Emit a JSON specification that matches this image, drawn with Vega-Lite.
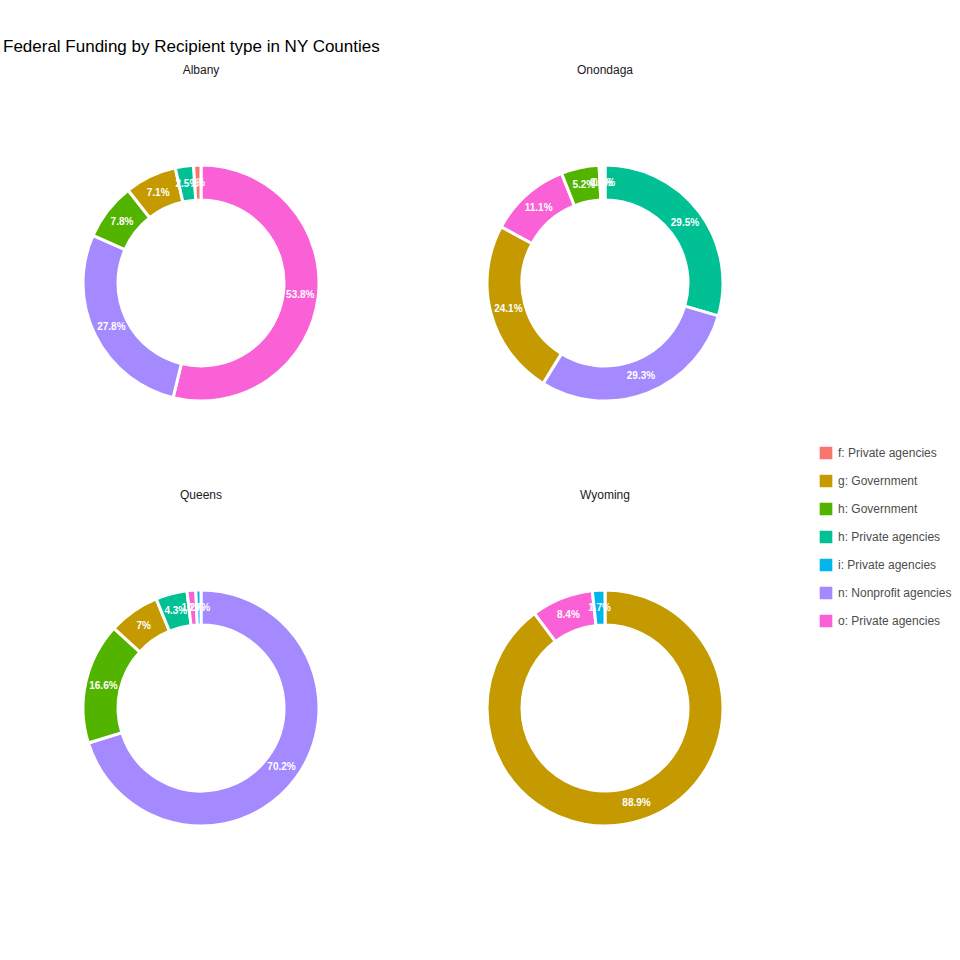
{
  "$schema": "https://vega.github.io/schema/vega-lite/v6.json",
  "padding": {"top": 38, "left": 3, "right": 5, "bottom": 5},
  "title": {"text": "Federal Funding by Recipient type in NY Counties", "anchor": "start", "fontSize": 17, "fontWeight": "normal", "font": "Liberation Sans", "offset": 8},
  "config": {"view": {"stroke": null}, "font": "Liberation Sans"},
  "data": {"values": [
    {"county": "Albany", "type": "o: Private agencies", "ord": 1, "pct": 53.8},
    {"county": "Albany", "type": "n: Nonprofit agencies", "ord": 2, "pct": 27.8},
    {"county": "Albany", "type": "h: Government", "ord": 3, "pct": 7.8},
    {"county": "Albany", "type": "g: Government", "ord": 4, "pct": 7.1},
    {"county": "Albany", "type": "h: Private agencies", "ord": 5, "pct": 2.5},
    {"county": "Albany", "type": "f: Private agencies", "ord": 6, "pct": 1.0},
    {"county": "Onondaga", "type": "h: Private agencies", "ord": 1, "pct": 29.5},
    {"county": "Onondaga", "type": "n: Nonprofit agencies", "ord": 2, "pct": 29.3},
    {"county": "Onondaga", "type": "g: Government", "ord": 3, "pct": 24.1},
    {"county": "Onondaga", "type": "o: Private agencies", "ord": 4, "pct": 11.1},
    {"county": "Onondaga", "type": "h: Government", "ord": 5, "pct": 5.2},
    {"county": "Onondaga", "type": "i: Private agencies", "ord": 6, "pct": 0.4},
    {"county": "Onondaga", "type": "f: Private agencies", "ord": 7, "pct": 0.4},
    {"county": "Queens", "type": "n: Nonprofit agencies", "ord": 1, "pct": 70.2},
    {"county": "Queens", "type": "h: Government", "ord": 2, "pct": 16.6},
    {"county": "Queens", "type": "g: Government", "ord": 3, "pct": 7},
    {"county": "Queens", "type": "h: Private agencies", "ord": 4, "pct": 4.3},
    {"county": "Queens", "type": "o: Private agencies", "ord": 5, "pct": 1.2},
    {"county": "Queens", "type": "i: Private agencies", "ord": 6, "pct": 0.7},
    {"county": "Wyoming", "type": "g: Government", "ord": 1, "pct": 88.9},
    {"county": "Wyoming", "type": "o: Private agencies", "ord": 2, "pct": 8.4},
    {"county": "Wyoming", "type": "i: Private agencies", "ord": 3, "pct": 1.7}
  ]},
  "transform": [{"calculate": "datum.pct + '%'", "as": "label"}],
  "facet": {"field": "county", "type": "nominal", "title": null,
    "header": {"labelFontSize": 12, "labelColor": "#1a1a1a", "labelPadding": 6}},
  "columns": 2,
  "spacing": {"column": 8, "row": 6},
  "spec": {
    "width": 396,
    "height": 400,
    "encoding": {
      "theta": {"field": "pct", "type": "quantitative", "stack": true},
      "order": {"field": "ord", "type": "quantitative"}
    },
    "layer": [
      {
        "mark": {"type": "arc", "innerRadius": 83, "outerRadius": 118, "stroke": "white", "strokeWidth": 3},
        "encoding": {
          "color": {"field": "type", "type": "nominal", "title": null,
            "scale": {"domain": ["f: Private agencies", "g: Government", "h: Government", "h: Private agencies", "i: Private agencies", "n: Nonprofit agencies", "o: Private agencies"],
              "range": ["#F8766D", "#C49A00", "#53B400", "#00C094", "#00B6EB", "#A58AFF", "#FB61D7"]},
            "legend": {"orient": "none", "legendX": 815, "legendY": 362, "symbolType": "square", "symbolSize": 200, "labelFontSize": 12, "labelColor": "#4d4d4d", "rowPadding": 6}}
        }
      },
      {
        "mark": {"type": "text", "radius": 100, "color": "white", "fontWeight": "bold", "fontSize": 10},
        "encoding": {"text": {"field": "label"}}
      }
    ]
  }
}
